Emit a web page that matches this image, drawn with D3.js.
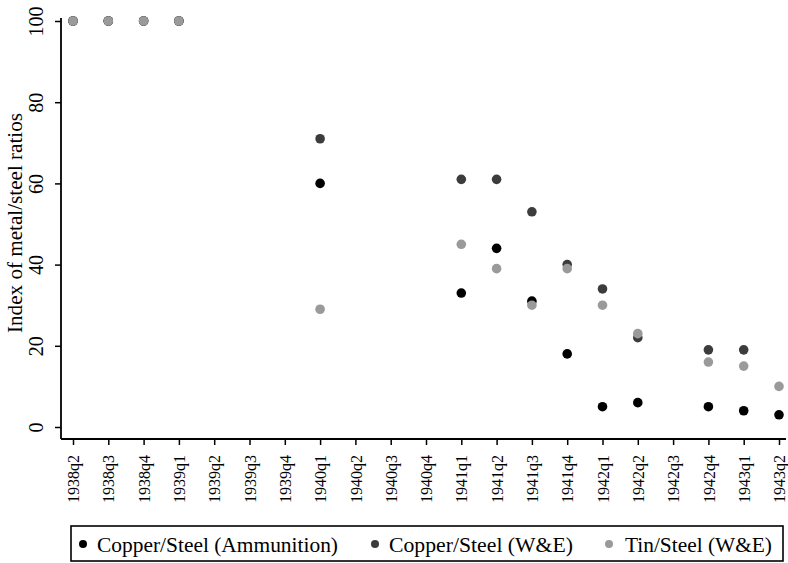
<!DOCTYPE html>
<html><head><meta charset="utf-8">
<script src="https://cdn.jsdelivr.net/npm/d3@7"></script>
<style>body{margin:0;background:#fff}svg{display:block}text{font-family:"Liberation Serif","Times New Roman",serif}</style>
</head><body><svg id="c" width="788" height="563"></svg>
<script>
const categories = ["1938q2","1938q3","1938q4","1939q1","1939q2","1939q3","1939q4","1940q1","1940q2","1940q3","1940q4","1941q1","1941q2","1941q3","1941q4","1942q1","1942q2","1942q3","1942q4","1943q1","1943q2"];
const copperAmmo = [100,100,100,100,null,null,null,60,null,null,null,33,44,31,18,5,6,null,5,4,3];
const copperWE   = [100,100,100,100,null,null,null,71,null,null,null,61,61,53,40,34,22,null,19,19,null];
const tinWE      = [100,100,100,100,null,null,null,29,null,null,null,45,39,30,39,30,23,null,16,15,10];
const yTicks = [0,20,40,60,80,100];
const seriesNames = ["Copper/Steel (Ammunition)","Copper/Steel (W&E)","Tin/Steel (W&E)"];
const seriesColors = ["#000000","#3c3c3c","#9a9a9a"];
const seriesData = [copperAmmo, copperWE, tinWE];

const svg = d3.select("#c");
const x = d3.scalePoint().domain(categories).range([73, 779]);
const y = d3.scaleLinear().domain([0,100]).range([427, 21]);

// axes
const yAx = svg.append("g").attr("transform","translate(61,0)")
  .call(d3.axisLeft(y).tickValues(yTicks).tickSize(6).tickPadding(0).tickFormat(d3.format("d")));
yAx.select(".domain").attr("d","M0,"+(y(100)-3)+"V439").attr("stroke","#000").attr("stroke-width",1.8);
yAx.selectAll(".tick line").attr("stroke","#000").attr("stroke-width",1.5);
yAx.selectAll(".tick text").attr("font-size",20).attr("fill","#000")
  .attr("transform","rotate(-90)").attr("text-anchor","middle").attr("x",0).attr("y",-18).attr("dy","0em");

const xAx = svg.append("g").attr("transform","translate(0,439)")
  .call(d3.axisBottom(x).tickSize(6).tickPadding(0));
xAx.select(".domain").attr("d","M61,0H786").attr("stroke","#000").attr("stroke-width",1.8);
xAx.selectAll(".tick line").attr("stroke","#000").attr("stroke-width",1.5);
xAx.selectAll(".tick text").attr("font-size",16).attr("fill","#000")
  .attr("transform","rotate(-90)").attr("text-anchor","end").attr("x",-16).attr("y",0).attr("dy","0.35em");

// y title
svg.append("text").attr("transform","translate(22,223) rotate(-90)").attr("text-anchor","middle")
  .attr("font-size",20).attr("textLength",220).attr("lengthAdjust","spacingAndGlyphs")
  .attr("fill","#000").text("Index of metal/steel ratios");

// points
seriesData.forEach((arr,si)=>{
  svg.append("g").selectAll("circle").data(categories.map((c,i)=>({c,v:arr[i]})).filter(d=>d.v!=null))
    .enter().append("circle").attr("cx",d=>x(d.c)).attr("cy",d=>y(d.v)).attr("r",4.8).attr("fill",seriesColors[si]);
});

// legend
svg.append("rect").attr("x",71).attr("y",526).attr("width",712).attr("height",35)
  .attr("fill","none").attr("stroke","#000").attr("stroke-width",1.6);
const lx = [83, 375, 609];
const tx = [97, 389, 625];
const tl = [241, 184, 147];
seriesNames.forEach((n,i)=>{
  svg.append("circle").attr("cx",lx[i]).attr("cy",544).attr("r",4).attr("fill",seriesColors[i]);
  svg.append("text").attr("x",tx[i]).attr("y",552).attr("font-size",21.5)
    .attr("textLength",tl[i]).attr("lengthAdjust","spacingAndGlyphs").attr("fill","#000").text(n);
});
</script></body></html>
